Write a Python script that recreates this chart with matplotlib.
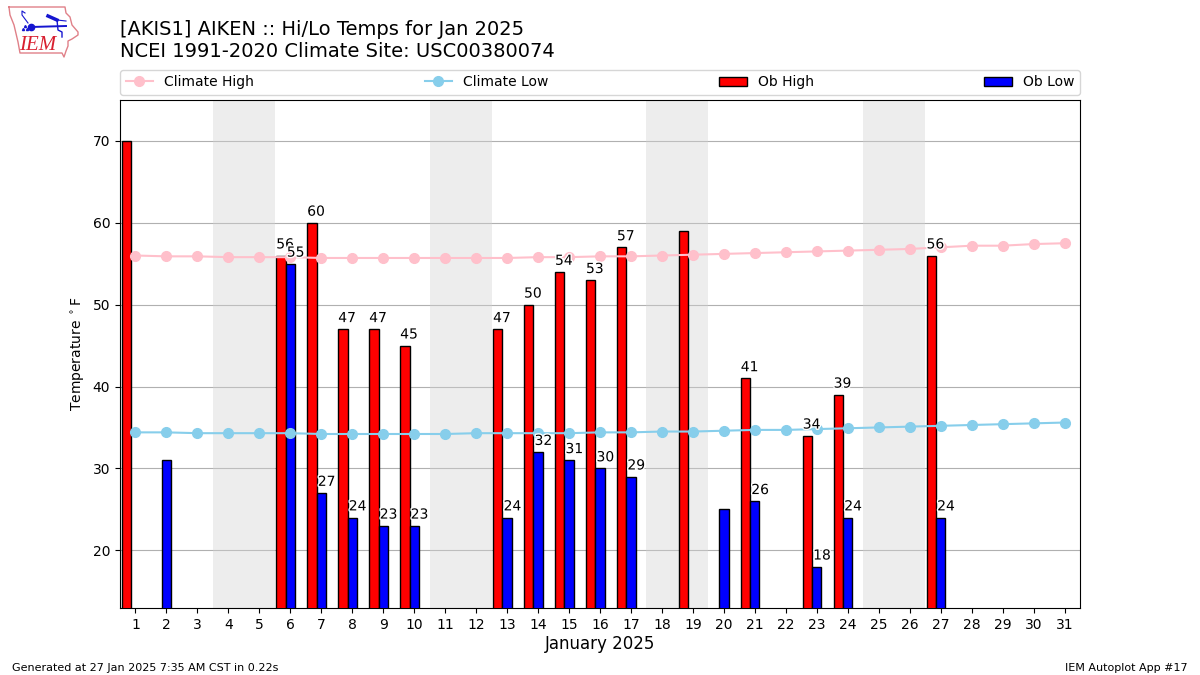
#!/usr/bin/env python3
import numpy as np
import matplotlib
matplotlib.use("Agg")
import matplotlib.pyplot as plt
import matplotlib.patheffects as PathEffects

days = np.arange(1, 32)
weekends = [(3.5, 5.5), (10.5, 12.5), (17.5, 19.5), (24.5, 26.5)]

climate_high = [56.0, 55.9, 55.9, 55.8, 55.8, 55.8, 55.7, 55.7, 55.7, 55.7, 55.7,
                55.7, 55.7, 55.8, 55.8, 55.9, 55.9, 56.0, 56.1, 56.2, 56.3, 56.4,
                56.5, 56.6, 56.7, 56.8, 57.0, 57.2, 57.2, 57.4, 57.5]
climate_low = [34.4, 34.4, 34.3, 34.3, 34.3, 34.3, 34.2, 34.2, 34.2, 34.2, 34.2,
               34.3, 34.3, 34.3, 34.3, 34.4, 34.4, 34.5, 34.5, 34.6, 34.7, 34.7,
               34.8, 34.9, 35.0, 35.1, 35.2, 35.3, 35.4, 35.5, 35.6]

n = np.nan
ob_high = [70, n, n, n, n, 56, 60, 47, 47, 45, n, n, 47, 50, 54, 53, 57, n, 59, n,
           41, n, 34, 39, n, n, 56, n, n, n, n]
ob_low = [n, 31, n, n, n, 55, 27, 24, 23, 23, n, n, 24, 32, 31, 30, 29, n, n, 25,
          26, n, 18, 24, n, n, 24, n, n, n, n]

fig = plt.figure(figsize=(12, 6.75), dpi=100)
ax = fig.add_axes([0.1, 0.0993, 0.8, 0.7526])

for start, end in weekends:
    ax.axvspan(start, end, color="lightgrey", alpha=0.4, lw=0, zorder=1)

ax.plot(days, climate_high, marker="o", ms=7, lw=1.5, color="pink", label="Climate High", zorder=4)
ax.plot(days, climate_low, marker="o", ms=7, lw=1.5, color="skyblue", label="Climate Low", zorder=4)
ax.bar(days - 0.3, ob_high, width=0.3, color="r", edgecolor="k", label="Ob High", zorder=3)
ax.bar(days, ob_low, width=0.3, color="b", edgecolor="k", label="Ob Low", zorder=3)

# labels only on days that have both obs
for d, hi, lo in zip(days, ob_high, ob_low):
    if np.isnan(hi) or np.isnan(lo):
        continue
    for xpos, val in ((d - 0.17, hi), (d + 0.17, lo)):
        txt = ax.text(xpos, val + 0.5, "%.0f" % val, ha="center", va="bottom", zorder=5)
        txt.set_path_effects([PathEffects.withStroke(linewidth=2, foreground="white")])

ax.set_xlim(0.5, 31.5)
ax.set_ylim(12.95, 75)
ax.set_xticks(days)
ax.set_yticks(range(20, 71, 10))
ax.grid(axis="y", zorder=2)
ax.set_axisbelow(True)
ax.set_xlabel("January 2025", fontsize=12, labelpad=2.5)
ax.set_ylabel(r"Temperature $^\circ$F")
ax.legend(loc="lower left", bbox_to_anchor=(0, 1.01, 1, 0.05), mode="expand",
          ncol=4, borderaxespad=0)

fig.text(0.1, 0.91, "[AKIS1] AIKEN :: Hi/Lo Temps for Jan 2025\n"
         "NCEI 1991-2020 Climate Site: USC00380074", fontsize=14, va="bottom")
fig.text(0.01, 0.0065, "Generated at 27 Jan 2025 7:35 AM CST in 0.22s", fontsize=8)
fig.text(0.99, 0.0065, "IEM Autoplot App #17", fontsize=8, ha="right")

# logo, in pixel coordinates of the reference
logo = fig.add_axes([0, 1 - 60 / 675, 82 / 1200, 60 / 675])
logo.set_xlim(0, 82)
logo.set_ylim(60, 0)
logo.axis("off")
iowa_x = [9, 65, 66, 70, 72, 78, 78, 72, 68, 68, 66, 64, 62, 20, 18, 14, 10, 9]
iowa_y = [7, 7, 13, 17, 25, 32, 35, 39, 41, 46, 51, 57, 53, 53, 42, 25, 15, 7]
logo.plot(iowa_x, iowa_y, color="#e08088", lw=1)
logo.plot([31, 66], [27, 26], color="#1515d0", lw=1.4)
logo.plot([28, 22, 22, 25], [23, 15, 11, 13], color="#1515d0", lw=0.8)
logo.plot([48, 57], [16, 20], color="#1515d0", lw=2.5)
logo.plot([57, 66], [20, 21], color="#1515d0", lw=0.8)
logo.plot([57, 58, 62, 62], [20, 30, 32, 37], color="#1515d0", lw=1)
logo.plot([31], [27], marker="o", ms=4.5, color="#1515d0")
logo.plot([23, 25, 27], [29, 26, 29], marker="^", ms=1.5, ls="", color="#1515d0")
logo.text(37.5, 45.5, "IEM", family="Liberation Serif", style="italic", fontsize=15,
          color="#d82030", ha="center", va="center")

fig.savefig("out.png", dpi=100)
